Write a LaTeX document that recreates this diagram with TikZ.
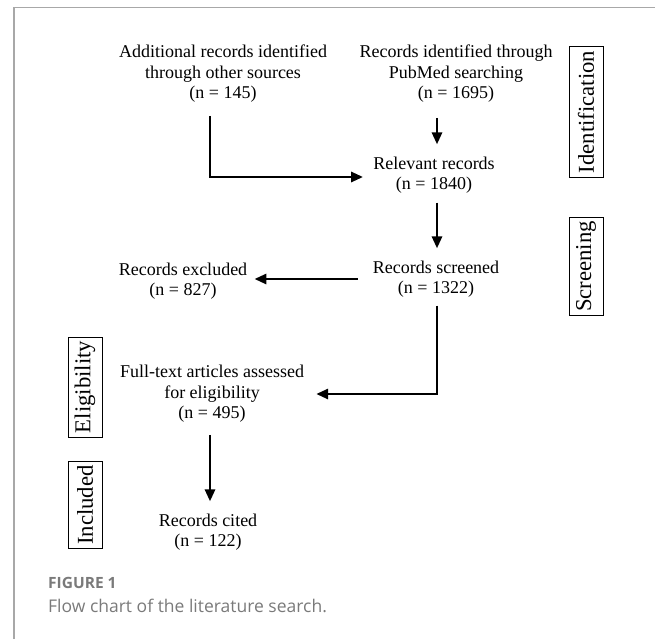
\documentclass[tikz,border=0pt]{standalone}
\usepackage{fontspec}
\setmainfont{Liberation Serif}
\newfontfamily\capfont{Open Sans}
\usetikzlibrary{arrows.meta}
\definecolor{capgray}{HTML}{7A7A7A}
\definecolor{framegray}{HTML}{A8A8A8}
\tikzset{
  txt/.style={align=center, inner sep=0pt, font=\fontsize{18}{20.5}\selectfont},
  stage/.style={draw, rotate=90, line width=0.8pt, inner xsep=4pt, inner ysep=0pt,
    minimum height=34pt, font=\fontsize{22.7}{24}\selectfont},
  arr/.style={-{Triangle[length=12pt,width=10pt]}, line width=2.8pt,
    shorten <=12pt, shorten >=12pt}
}
\begin{document}
\begin{tikzpicture}[x=1pt,y=-1pt]
  \useasboundingbox (0,0) rectangle (655,639);
  % card frame
  \draw[framegray, line width=1.2pt] (14,639) -- (14,7.5) -- (655,7.5);

  % boxes
  \node[txt] (src) at (223,74) {Additional records identified\\through other sources\\(n = 145)};
  \node[txt] (pub) at (456,74) {Records identified through\\PubMed searching\\(n = 1695)};
  \node[txt] (rel) at (434,175) {Relevant records\\(n = 1840)};
  \node[txt] (scr) at (436,279) {Records screened\\(n = 1322)};
  \node[txt] (exc) at (183,281) {Records excluded\\(n = 827)};
  \node[txt] (full) at (212,394) {Full-text articles assessed\\for eligibility\\(n = 495)};
  \node[txt] (cited) at (208,532) {Records cited\\(n = 122)};

  % stages
  \node[stage] (ident) at (586,112) {Identification};
  \node[stage] (screen) at (586,266.5) {Screening};
  \node[stage] (elig) at (85,387) {Eligibility};
  \node[stage] (incl) at (85,505) {Included};

  % arrows
  \draw[arr, shorten <=13pt, shorten >=10pt] ([xshift=-13pt]src.south) |- ([yshift=-2pt]rel.west);
  \draw[arr, shorten <=15pt] ([xshift=3pt]rel.north |- pub.south) -- ([xshift=3pt]rel.north);
  \draw[arr, shorten <=9pt] ([xshift=3pt]rel.south) -- ([xshift=1pt]scr.north);
  \draw[arr, shorten <=15pt, shorten >=7pt] (scr.west) -- (exc.east |- scr.west);
  \draw[arr, shorten <=8pt] ([xshift=1pt]scr.south) |- (full.east);
  \draw[arr] ([xshift=-2pt]full.south) -- ([xshift=2pt]cited.north);

  % caption
  \node[anchor=west, inner sep=0pt, text=capgray, font=\capfont\bfseries\fontsize{15.5}{18}\selectfont] (fig) at (48,583) {FIGURE 1};
  \node[anchor=west, inner sep=0pt, text=capgray, font=\capfont\fontsize{17.5}{20}\selectfont] (cap) at (48,606) {Flow chart of the literature search.};
\end{tikzpicture}
\end{document}
